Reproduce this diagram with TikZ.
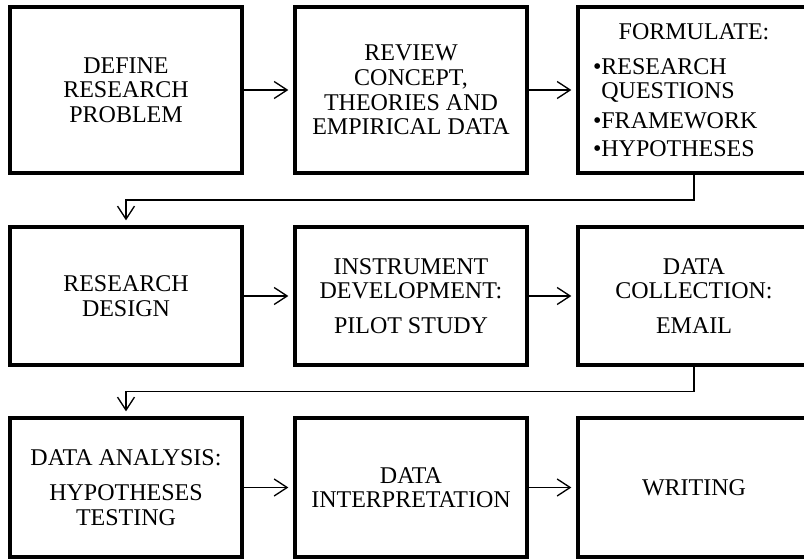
\documentclass[tikz,border=0pt]{standalone}
\usepackage{fontspec}
\setmainfont{Liberation Serif}
\usetikzlibrary{arrows.meta}
\begin{document}
\begin{tikzpicture}[x=0.75pt,y=-0.75pt,
  box/.style={draw, line width=3pt, rectangle, align=center, inner sep=0pt,
    font=\fontsize{18}{18.4}\selectfont},
  rowone/.style={minimum width=174pt, minimum height=124.5pt},
  rowtwo/.style={minimum width=174pt, minimum height=103.5pt},
  rowthree/.style={minimum width=174pt, minimum height=104.25pt},
  conn/.style={line width=1pt, -{Straight Barb[length=9.75pt,width=12.75pt]}, shorten >=3.5pt}
]
\clip (0,0) rectangle (804,559);
% row 1
\node[box, rowone] (b1) at (126,90) {DEFINE\\RESEARCH\\PROBLEM};
\node[box, rowone] (b2) at (411,90) {REVIEW\\CONCEPT,\\THEORIES AND\\EMPIRICAL DATA};
\node[box, rowone, text width=151.5pt, align=left] (b3) at (694,90)
  {\makebox[151.5pt]{FORMULATE:}\\[7.9pt]•RESEARCH\\\phantom{•}QUESTIONS\\[4.1pt]•FRAMEWORK\\[2.6pt]•HYPOTHESES};
% row 2
\node[box, rowtwo] (b4) at (126,296) {RESEARCH\\DESIGN};
\node[box, rowtwo] (b5) at (411,296) {INSTRUMENT\\DEVELOPMENT:\\[7.5pt]PILOT STUDY};
\node[box, rowtwo] (b6) at (694,296) {DATA\\COLLECTION:\\[7.5pt]EMAIL};
% row 3
\node[box, rowthree] (b7) at (126,487.5) {DATA ANALYSIS:\\[8pt]HYPOTHESES\\TESTING};
\node[box, rowthree] (b8) at (411,487.5) {DATA\\INTERPRETATION};
\node[box, rowthree] (b9) at (694,487.5) {WRITING};
% connectors
\coordinate (m1) at (0,200);
\coordinate (m2) at (0,391.5);
\draw[conn] (b1) -- (b2);
\draw[conn] (b2) -- (b3);
\draw[conn] (b3.south) -- (b3.south |- m1) -| (b4.north);
\draw[conn] (b4) -- (b5);
\draw[conn] (b5) -- (b6);
\draw[conn] (b6.south) -- (b6.south |- m2) -| (b7.north);
\draw[conn] (b7) -- (b8);
\draw[conn] (b8) -- (b9);
\end{tikzpicture}
\end{document}
